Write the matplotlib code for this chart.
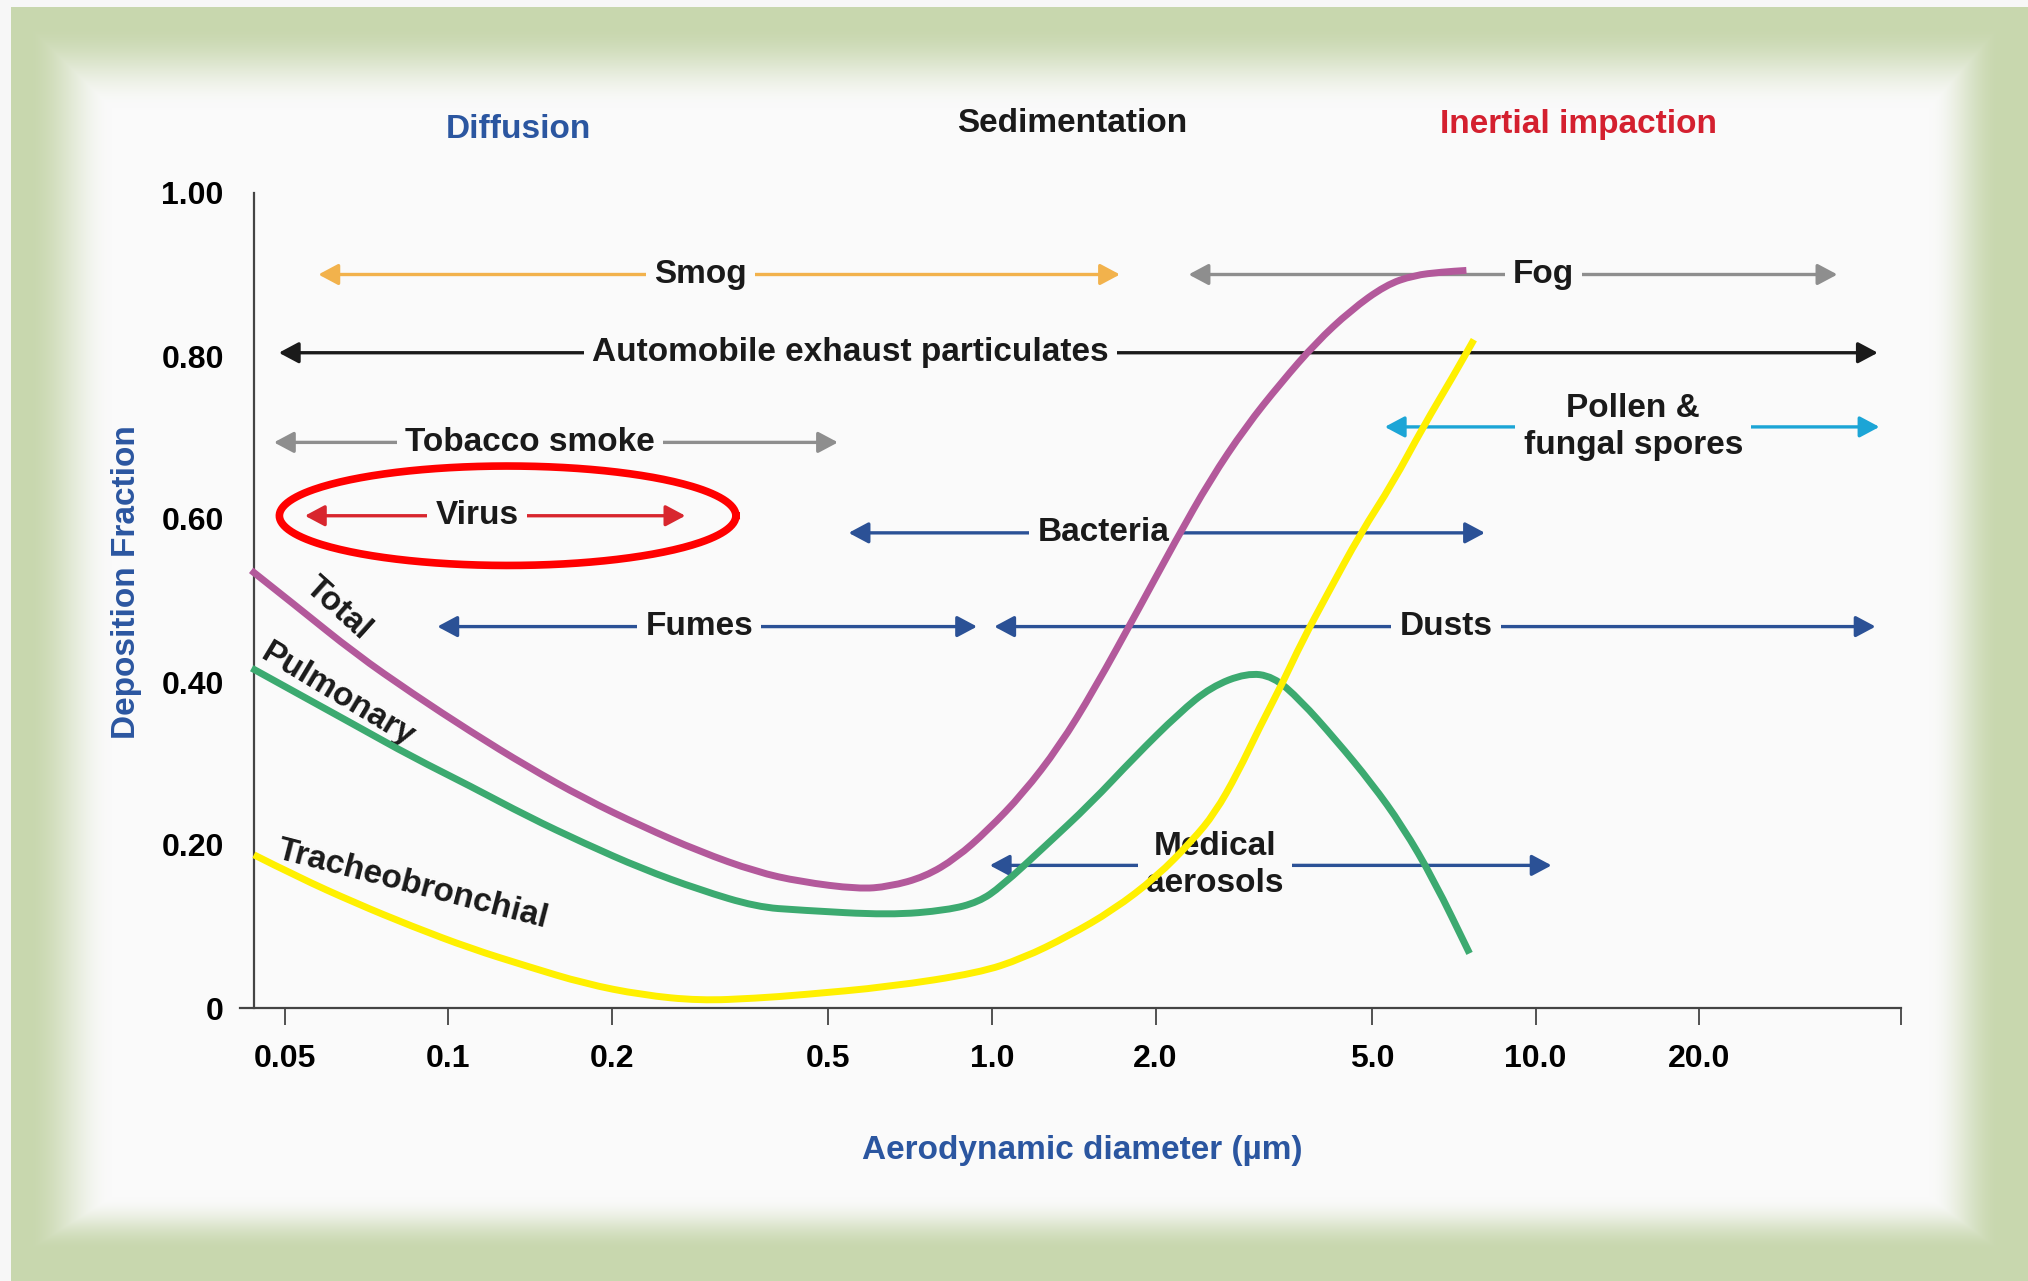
import numpy as np
import matplotlib
matplotlib.use("Agg")
import matplotlib.pyplot as plt
from matplotlib.ticker import NullLocator
from matplotlib.path import Path
from matplotlib.patches import PathPatch

plt.rcParams['font.family'] = ['Liberation Sans', 'DejaVu Sans']
plt.rcParams['font.weight'] = 'bold'

# deposition curves: aerodynamic diameter (um) vs deposition fraction
total_x = [0.0434, 0.0528, 0.0674, 0.0859, 0.110, 0.140, 0.178, 0.227, 0.290, 0.369,
           0.444, 0.567, 0.648, 0.753, 0.860, 0.982, 1.14, 1.33, 1.54, 1.87,
           2.18, 2.52, 2.93, 3.40, 3.94, 4.57, 5.30, 5.97, 6.72, 7.46]
total_y = [0.537, 0.492, 0.435, 0.386, 0.339, 0.296, 0.257, 0.223, 0.192, 0.167,
           0.155, 0.146, 0.149, 0.161, 0.184, 0.218, 0.263, 0.321, 0.390, 0.492,
           0.574, 0.648, 0.713, 0.767, 0.816, 0.856, 0.887, 0.899, 0.903, 0.905]

pulm_x = [0.0435, 0.0528, 0.0674, 0.0859, 0.110, 0.140, 0.178, 0.227, 0.290, 0.369,
          0.444, 0.648, 0.828, 0.945, 1.04, 1.25, 1.52, 1.83, 2.21, 2.53,
          2.94, 3.29, 3.69, 4.29, 4.99, 5.69, 6.50, 7.56]
pulm_y = [0.417, 0.386, 0.347, 0.308, 0.272, 0.235, 0.202, 0.171, 0.145, 0.124,
          0.120, 0.114, 0.120, 0.130, 0.149, 0.198, 0.251, 0.308, 0.362, 0.394,
          0.411, 0.407, 0.378, 0.329, 0.276, 0.223, 0.157, 0.067]

trach_x = [0.0439, 0.0528, 0.0674, 0.0859, 0.110, 0.140, 0.178, 0.227, 0.290, 0.369,
           0.444, 0.648, 0.945, 1.14, 1.38, 1.67, 2.01, 2.34, 2.57, 2.83,
           3.11, 3.42, 3.72, 4.15, 4.76, 5.46, 6.21, 7.05, 7.70]
trach_y = [0.188, 0.161, 0.129, 0.100, 0.073, 0.051, 0.030, 0.016, 0.009, 0.012,
           0.016, 0.026, 0.043, 0.061, 0.088, 0.120, 0.161, 0.206, 0.239, 0.288,
           0.345, 0.398, 0.450, 0.509, 0.582, 0.644, 0.713, 0.775, 0.820]

# particle size ranges
range_labels = ['Smog', 'Automobile exhaust particulates', 'Fog', 'Pollen &\nfungal spores',
                'Tobacco smoke', 'Virus', 'Bacteria', 'Fumes', 'Dusts', 'Medical\naerosols']
range_lo = [0.0577, 0.0488, 2.30, 5.28, 0.0478, 0.0545, 0.545, 0.0955, 1.01, 0.991]
range_hi = [1.72, 42.6, 35.9, 42.9, 0.521, 0.273, 8.07, 0.939, 42.2, 10.7]
range_level = [0.900, 0.804, 0.900, 0.713, 0.694, 0.604, 0.583, 0.468, 0.468, 0.175]

xtick_vals = [0.05, 0.1, 0.2, 0.5, 1.0, 2.0, 5.0, 10.0, 20.0]
xtick_labels = ['0.05', '0.1', '0.2', '0.5', '1.0', '2.0', '5.0', '10.0', '20.0']
ytick_vals = [0, 0.2, 0.4, 0.6, 0.8, 1.0]
ytick_labels = ['0', '0.20', '0.40', '0.60', '0.80', '1.00']

# layout / styles
range_colors = ['#f2b24c', '#1a1a1a', '#8e8e8e', '#1ca5d6', '#8e8e8e',
                '#d8262e', '#2b5196', '#2b5196', '#2b5196', '#2b5196']
label_x = [0.291, 0.5495, 10.34, 15.12, 0.1415, 0.113, 1.603, 0.2895, 6.848, 2.574]
BLUE = '#2b56a0'
PANEL = '#fafafa'
FS = 24

W, H = 2028, 1281
fig = plt.figure(figsize=(W / 100, H / 100), dpi=100)

# green picture frame behind everything
yy, xx = np.mgrid[0:H, 0:W].astype(float)


def ramp(d, a, b):
    t = np.clip((d - a) / (b - a), 0, 1)
    return t * t * (3 - 2 * t)


t = np.minimum.reduce([ramp(xx, 27, 112), ramp(yy, 25, 108),
                       ramp(W - xx, 28, 100), ramp(H - yy, 31, 85)])
green = np.array([200, 215, 174]) / 255
white = np.array([250, 250, 250]) / 255
img = green + (white - green) * t[..., None]
img[:, :11] = [0.97, 0.97, 0.97]
img[:7, :] = [0.97, 0.97, 0.97]
bg = fig.add_axes([0, 0, 1, 1], zorder=-1)
bg.imshow(img, aspect='auto', interpolation='bilinear')
bg.axis('off')

ax = fig.add_axes([240 / W, 1 - 1008 / H, (1901 - 240) / W, (1008 - 193) / H])
ax.set_facecolor('none')
ax.set_xscale('log')
ax.set_xlim(0.0414, 47)
ax.set_ylim(0, 1.0)

for s in ['top', 'right']:
    ax.spines[s].set_visible(False)
ax.spines['left'].set_position(('data', 0.0440))
ax.spines['left'].set_bounds(0, 1.0)
for s in ['left', 'bottom']:
    ax.spines[s].set_color('#444444')
    ax.spines[s].set_linewidth(1.6)

ax.set_xticks(xtick_vals + [47])
ax.set_xticklabels(xtick_labels + [''])
ax.xaxis.set_minor_locator(NullLocator())
ax.set_yticks(ytick_vals)
ax.set_yticklabels(ytick_labels)
ax.tick_params(axis='x', direction='out', length=12, width=1.3, color='#444444',
               pad=14, labelsize=FS - 1)
ax.tick_params(axis='y', length=0, pad=22, labelsize=FS - 1)

# size range arrows
for lab, lo, hi, lev, c, lx in zip(range_labels, range_lo, range_hi, range_level,
                                    range_colors, label_x):
    ax.annotate('', xy=(lo, lev), xytext=(hi, lev),
                arrowprops=dict(arrowstyle='<|-|>,head_length=0.6,head_width=0.32',
                                color=c, lw=2.4, shrinkA=0, shrinkB=0, mutation_scale=20),
                zorder=2)
    ax.text(lx, lev, lab, ha='center', va='center', fontsize=FS, color='#1a1a1a',
            linespacing=1.25, zorder=3,
            bbox=dict(boxstyle='square,pad=0.25', fc=PANEL, ec='none'))


def smooth_curve(xs, ys):
    # quadratic b-spline through the read points, midpoints taken in log-x
    pts = list(zip(xs, ys))
    verts = [pts[0]]
    codes = [Path.MOVETO]
    for k in range(1, len(pts) - 1):
        mid = ((pts[k][0] * pts[k + 1][0]) ** 0.5, (pts[k][1] + pts[k + 1][1]) / 2)
        verts += [pts[k], mid]
        codes += [Path.CURVE3, Path.CURVE3]
    verts.append(pts[-1])
    codes.append(Path.LINETO)
    return Path(verts, codes)


for xs, ys, col in [(total_x, total_y, '#b3599b'),
                    (pulm_x, pulm_y, '#3caa70'),
                    (trach_x, trach_y, '#fff000')]:
    ax.add_patch(PathPatch(smooth_curve(xs, ys), fill=False, ec=col, lw=5,
                           capstyle='butt', zorder=5))

ax.text(0.0626, 0.490, 'Total', rotation=-42, ha='center', va='center',
        rotation_mode='anchor', fontsize=FS, color='#1a1a1a')
ax.text(0.0626, 0.384, 'Pulmonary', rotation=-31, ha='center', va='center',
        rotation_mode='anchor', fontsize=FS, color='#1a1a1a')
ax.text(0.0860, 0.151, 'Tracheobronchial', rotation=-14.5, ha='center', va='center',
        rotation_mode='anchor', fontsize=FS, color='#1a1a1a')

# red ring around the virus range
i = range_labels.index('Virus')
lv0, lv1 = np.log10(range_lo[i]), np.log10(range_hi[i])
cx = (lv0 + lv1) / 2 + 0.023
a = 1.2 * (lv1 - lv0) / 2
th = np.linspace(0, 2 * np.pi, 300)
ax.plot(10 ** (cx + a * np.cos(th)), range_level[i] + 0.061 * np.sin(th),
        color='#ff0000', lw=5.5, zorder=6)

# mechanism headings and axis titles
fig.text(518.7 / W, 1 - 129 / H, 'Diffusion', color=BLUE, fontsize=FS, ha='center', va='center')
fig.text(1072 / W, 1 - 124 / H, 'Sedimentation', color='#1a1a1a', fontsize=FS,
         ha='center', va='center')
fig.text(1579 / W, 1 - 124 / H, 'Inertial impaction', color='#d4202f', fontsize=FS,
         ha='center', va='center')
fig.text(126.8 / W, 1 - 582 / H, 'Deposition Fraction', color=BLUE, fontsize=FS,
         rotation=90, ha='center', va='center')
fig.text(1082.6 / W, 1 - 1150 / H, 'Aerodynamic diameter (µm)', color=BLUE, fontsize=FS,
         ha='center', va='center')

fig.savefig('out.png', dpi=100)
